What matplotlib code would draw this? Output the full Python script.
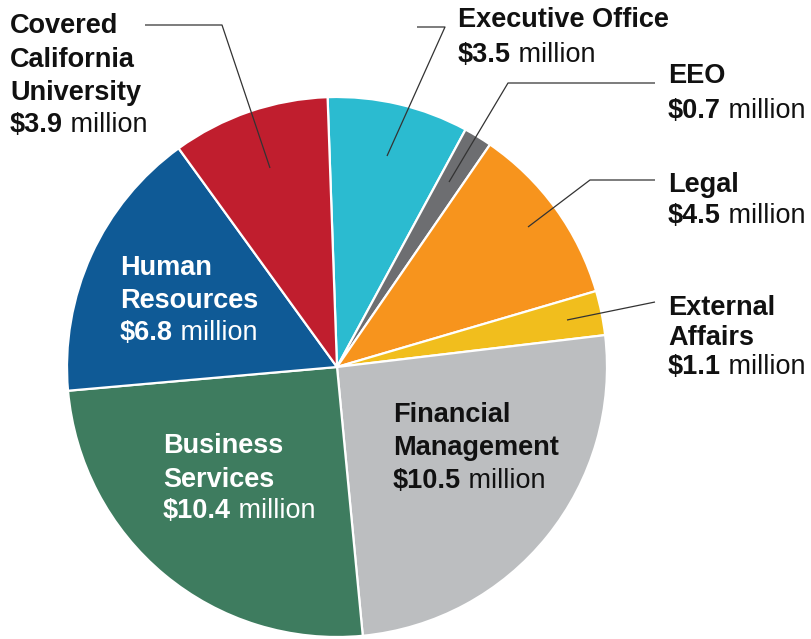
import matplotlib
matplotlib.use("Agg")
import matplotlib.pyplot as plt

# 各部門預算 (百萬美元)，依順時針順序
names = ["Executive Office", "EEO", "Legal", "External Affairs",
         "Financial Management", "Business Services", "Human Resources",
         "Covered California University"]
values = [3.5, 0.7, 4.5, 1.1, 10.5, 10.4, 6.8, 3.9]
colors = ["#2BBBD0", "#6D6E71", "#F7941D", "#F1BE1D",
          "#BCBEC0", "#3E7C5F", "#0F5A96", "#C01E2E"]

# 標籤文字：名稱行 + 金額
label_lines = {
    "Covered California University": ["Covered", "California", "University"],
    "Executive Office": ["Executive Office"],
    "EEO": ["EEO"],
    "Legal": ["Legal"],
    "External Affairs": ["External", "Affairs"],
    "Human Resources": ["Human", "Resources"],
    "Business Services": ["Business", "Services"],
    "Financial Management": ["Financial", "Management"],
}

W, H = 812, 639
plt.rcParams["font.family"] = ["Liberation Sans", "DejaVu Sans"]

fig = plt.figure(figsize=(W / 100, H / 100), dpi=100)
ax = fig.add_axes([0, 0, 1, 1])

def py(y):
    return H - y

cx, cy, r = 337, 367, 270
ax.pie(values, colors=colors, startangle=92, counterclock=False,
       center=(cx, py(cy)), radius=r,
       wedgeprops=dict(edgecolor="white", linewidth=1.6))
ax.set_xlim(0, W)
ax.set_ylim(0, H)
ax.axis("off")

renderer = fig.canvas.get_renderer()
FS = 19.5

# 標籤位置 (左邊 x, 每行基線 y) - 像素座標
label_pos = {
    "Covered California University": (10, [33, 67, 100, 132], "#111111"),
    "Executive Office": (458, [27, 62], "#111111"),
    "EEO": (668, [83, 118], "#111111"),
    "Legal": (668, [192, 223], "#111111"),
    "External Affairs": (668, [315, 345, 374], "#111111"),
    "Human Resources": (120, [275, 308, 340], "white"),
    "Business Services": (163, [453, 487, 518], "white"),
    "Financial Management": (393, [422, 455, 488], "#111111"),
}

for name, val in zip(names, values):
    x, ys, col = label_pos[name]
    for line, y in zip(label_lines[name], ys[:-1]):
        ax.text(x, py(y), line, fontsize=FS, fontweight="bold", color=col,
                va="baseline", ha="left")
    t = ax.text(x, py(ys[-1]), "$%.1f" % val, fontsize=FS, fontweight="bold",
                color=col, va="baseline", ha="left")
    w = t.get_window_extent(renderer).width
    ax.text(x + w, py(ys[-1]), " million", fontsize=FS, color=col,
            va="baseline", ha="left")

# 引線
leaders = [
    [(145, 25), (222, 25), (270, 168)],
    [(417, 27), (445, 27), (387, 156)],
    [(655, 83), (508, 83), (449, 182)],
    [(655, 180), (590, 180), (528, 227)],
    [(655, 302), (567, 320)],
]
for pts in leaders:
    ax.plot([p[0] for p in pts], [py(p[1]) for p in pts],
            color="#333333", linewidth=0.9, solid_capstyle="butt")

fig.savefig("out.png", dpi=100)
